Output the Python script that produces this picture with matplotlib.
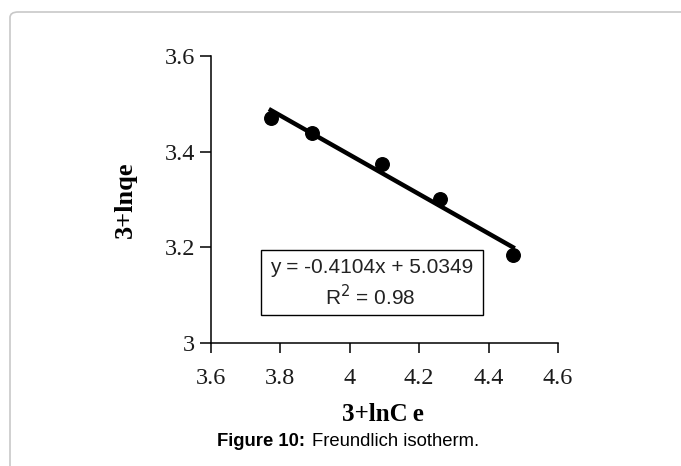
import matplotlib
matplotlib.use("Agg")
import matplotlib.pyplot as plt
from matplotlib.patches import FancyBboxPatch, Rectangle
import numpy as np

# data
ln_ce = [3.773, 3.893, 4.092, 4.260, 4.470]
ln_qe = [3.471, 3.439, 3.374, 3.302, 3.184]
slope = -0.4104
intercept = 5.0349
r2 = 0.98
xticks = [3.6, 3.8, 4.0, 4.2, 4.4, 4.6]
xticklabels = ["3.6", "3.8", "4", "4.2", "4.4", "4.6"]
yticks = [3.0, 3.2, 3.4, 3.6]
yticklabels = ["3", "3.2", "3.4", "3.6"]

W, H = 681, 466
fig = plt.figure(figsize=(W / 100, H / 100), dpi=100)
fig.patch.set_facecolor("white")

# light rounded frame of the figure panel
frame = FancyBboxPatch((10 / W, -0.2), 1.2, 1 - 12 / H + 0.2,
                       boxstyle="round,pad=0,rounding_size=0.012",
                       transform=fig.transFigure, fill=False,
                       edgecolor="#c8c8c8", linewidth=1.2)
fig.patches.append(frame)

ax = fig.add_axes([210.7 / W, 1 - 343.3 / H, 347.3 / W, 287.6 / H])

ax.scatter(ln_ce, ln_qe, s=95, color="black", zorder=3)
xfit = np.array([min(ln_ce), max(ln_ce)])
ax.plot(xfit, slope * xfit + intercept, color="black", linewidth=3.2, zorder=2)

ax.set_xlim(3.6, 4.6)
ax.set_ylim(3.0, 3.6)
ax.set_xticks(xticks)
ax.set_xticklabels(xticklabels)
ax.set_yticks(yticks)
ax.set_yticklabels(yticklabels)

for s in ["top", "right"]:
    ax.spines[s].set_visible(False)
for s in ["left", "bottom"]:
    ax.spines[s].set_linewidth(1.1)

serif = ["Liberation Serif", "DejaVu Serif"]
ax.tick_params(axis="x", direction="out", length=7.5, width=1.1, pad=10,
               labelsize=17.5)
ax.tick_params(axis="y", direction="out", length=8, width=1.1, pad=3,
               labelsize=17.5)
for lab in ax.get_xticklabels() + ax.get_yticklabels():
    lab.set_fontfamily(serif)
    lab.set_color("#1a1a1a")

ax.set_xlabel("3+lnC\u2009e", fontsize=18, fontweight="bold", family=serif)
ax.set_ylabel("3+lnqe", fontsize=19, fontweight="bold", family=serif)
ax.xaxis.set_label_coords(0.497, -0.208)
ax.yaxis.set_label_coords(-0.212, 0.5)

# equation box
ax.add_patch(Rectangle((0.145, 0.098), 0.639, 0.226, transform=ax.transAxes,
                       facecolor="white", edgecolor="black", linewidth=1.0,
                       zorder=4))
sans = ["Liberation Sans", "DejaVu Sans"]
ax.text(0.4645, 0.262, "y = -0.4104x + 5.0349", transform=ax.transAxes,
        ha="center", va="center", fontsize=15, family=sans, color="#222222",
        zorder=5)
ax.text(0.459, 0.162, "R$^2$ = %.2f" % r2, transform=ax.transAxes,
        ha="center", va="center", fontsize=15, family=sans, color="#222222",
        zorder=5)

# caption
fig.text(217 / W, 1 - 442 / H, "Figure 10:", ha="left", va="center",
         fontsize=13.3, fontweight="bold", family=sans)
fig.text(312 / W, 1 - 442 / H, "Freundlich isotherm.", ha="left",
         va="center", fontsize=13.3, family=sans)

fig.savefig("out.png", dpi=100, facecolor="white")
